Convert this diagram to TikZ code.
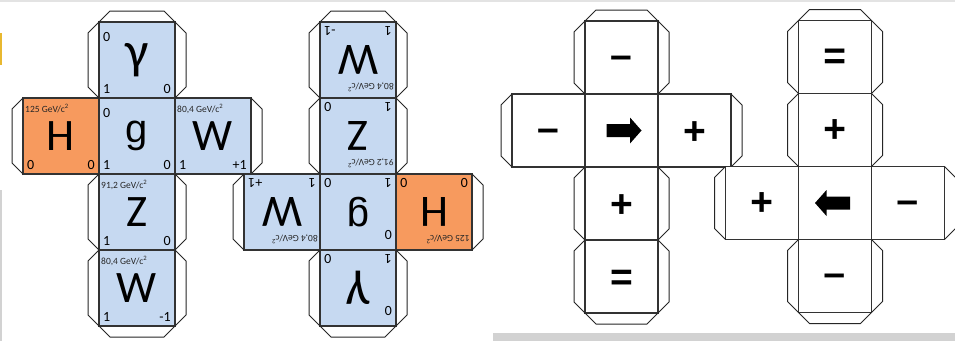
\documentclass[tikz,border=0pt]{standalone}
\usepackage{fontspec}
\setmainfont{Carlito}
\newfontfamily\symfont{Liberation Sans}
\definecolor{cellblue}{HTML}{C6D9F1}
\definecolor{cellorange}{HTML}{F79A5E}
\definecolor{edge}{HTML}{333333}
\definecolor{marker}{HTML}{E8B830}
\def\sA{76}
\def\dd{11}
\tikzset{
  sq/.style={draw=edge, line width=1.1pt, minimum size=\sA pt, inner sep=0pt, outer sep=0pt, anchor=center},
  tabline/.style={draw=black!85, line width=1pt, line join=miter},
  big/.style={font=\fontsize{45}{45}\selectfont, inner sep=0pt, anchor=center},
  num/.style={font=\fontsize{14}{14}\selectfont, text height=9pt, text depth=0pt, inner xsep=4pt, inner ysep=4pt},
  tlnum/.style={num, inner ysep=10pt},
  mass/.style={font=\fontsize{9.5}{9.5}\selectfont, text=black!85, text height=7pt, text depth=0pt, inner xsep=2pt, inner ysep=7pt},
  symb/.style={font=\symfont\bfseries\fontsize{39}{39}\selectfont, inner sep=0pt, anchor=base},
}
\newcommand\tabT[1]{\draw[tabline] (#1.north west) -- ++(\dd,-\dd) -- ++({\sA-2*\dd},0) -- (#1.north east);}
\newcommand\tabB[1]{\draw[tabline] (#1.south west) -- ++(\dd,\dd) -- ++({\sA-2*\dd},0) -- (#1.south east);}
\newcommand\tabL[1]{\draw[tabline] (#1.north west) -- ++(-\dd,\dd) -- ++(0,{\sA-2*\dd}) -- (#1.south west);}
\newcommand\tabR[1]{\draw[tabline] (#1.north east) -- ++(\dd,\dd) -- ++(0,{\sA-2*\dd}) -- (#1.south east);}
% particle cell: name, col, row, fill, big, tl style, tl text, bl, br
\newcommand\pcell[9]{%
  \node[sq, fill=#4] (#1) at ({(#2+0.5)*\sA},{(#3+0.5)*\sA}) {};
  \node[big] (#1-sym) at (#1.center) {#5};
  \node[#6, anchor=north west] (#1-tl) at (#1.north west) {#7};
  \node[num, anchor=south west] (#1-bl) at (#1.south west) {#8};
  \node[num, anchor=south east] (#1-br) at (#1.south east) {#9};
}
% symbol cell: name, col, row, symbol, baseline offset
\newcommand\scell[5]{%
  \node[sq, fill=white] (#1) at ({(#2+0.5)*\sA},{(#3+0.5)*\sA}) {};
  \node[symb] (#1-sym) at ({(#2+0.5)*\sA},{(#3+0.5)*\sA+#5}) {#4};
}
\newcommand\particlenet[1]{%
  \pcell{#1G}{1}{0}{cellblue}{\fontsize{52}{52}\selectfont γ}{tlnum}{0}{1}{0}
  \pcell{#1H}{0}{1}{cellorange}{H}{mass}{125 GeV/c\textsuperscript{2}}{0}{0}
  \pcell{#1g}{1}{1}{cellblue}{\symfont\fontsize{40}{40}\selectfont g}{tlnum}{0}{1}{0}
  \pcell{#1W}{2}{1}{cellblue}{W}{mass}{80,4 GeV/c\textsuperscript{2}}{1}{+1}
  \pcell{#1Z}{1}{2}{cellblue}{Z}{mass}{91,2 GeV/c\textsuperscript{2}}{1}{0}
  \pcell{#1V}{1}{3}{cellblue}{W}{mass}{80,4 GeV/c\textsuperscript{2}}{1}{-1}
  \tabT{#1G}\tabL{#1G}\tabR{#1G}
  \tabL{#1H}
  \tabR{#1W}
  \tabL{#1Z}\tabR{#1Z}
  \tabL{#1V}\tabR{#1V}\tabB{#1V}
}
\newcommand\signnet[1]{%
  \scell{#1T}{1}{0}{–}{10.8}
  \scell{#1L}{0}{1}{–}{10.8}
  \node[sq, fill=white] (#1C) at ({1.5*\sA},{1.5*\sA}) {};
  \fill[black] ({1.5*\sA-15},{1.5*\sA-6.5}) -- ++(23.5,0) -- ++(0,-6.5) -- ++(11.5,13)
     -- ++(-11.5,13) -- ++(0,-6.5) -- ++(-23.5,0) -- cycle;
  \scell{#1R}{2}{1}{+}{13.6}
  \scell{#1P}{1}{2}{+}{13.6}
  \scell{#1E}{1}{3}{=}{13.6}
  \tabT{#1T}\tabL{#1T}\tabR{#1T}
  \tabL{#1L}
  \tabR{#1R}
  \tabL{#1P}\tabR{#1P}
  \tabL{#1E}\tabR{#1E}\tabB{#1E}
}
\begin{document}
\begin{tikzpicture}[x=1pt,y=-1pt]
  \useasboundingbox (0,0) rectangle (955,341);
  \fill[white] (0,0) rectangle (955,341);
  % screenshot edges
  \fill[gray!22] (0,0) rectangle (955,2);
  \fill[gray!35] (493,333) rectangle (955,341);
  \fill[gray!35] (0,190) rectangle (1.5,341);
  \fill[marker] (0,33) rectangle (2,65);
  % left particle net and its rotated copy
  \def\sA{76}
  \begin{scope}[shift={(23,22)}]
    \particlenet{a}
  \end{scope}
  \begin{scope}[shift={(472,326)}, rotate=180, transform shape]
    \particlenet{b}
  \end{scope}
  % sign nets
  \def\sA{73}
  \begin{scope}[shift={(512,21)}]
    \signnet{c}
  \end{scope}
  \begin{scope}[shift={(944.5,312.5)}, rotate=180, transform shape]
    \signnet{d}
  \end{scope}
\end{tikzpicture}
\end{document}
